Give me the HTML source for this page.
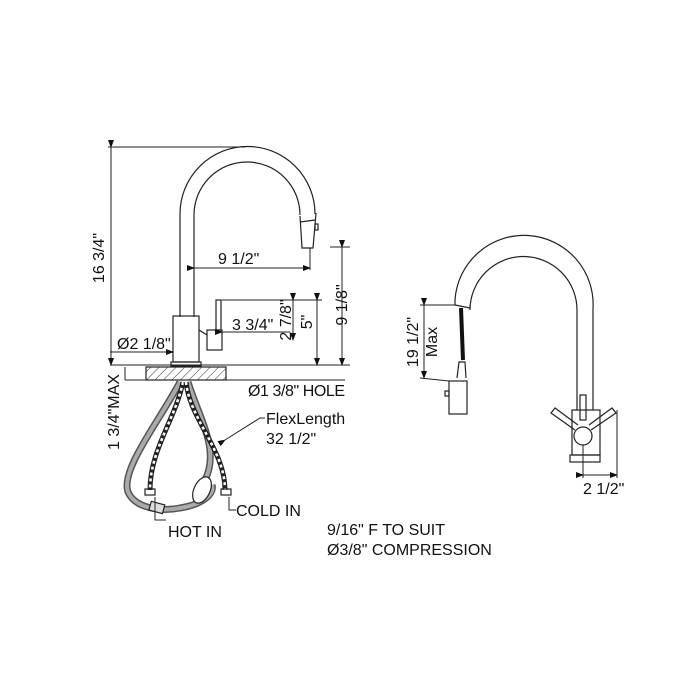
<!DOCTYPE html>
<html><head><meta charset="utf-8"><style>
html,body{margin:0;padding:0;background:#fff;}
svg{display:block;}
text{font-family:"Liberation Sans",Arial,sans-serif;font-size:16px;fill:#111;}
</style></head><body>
<svg width="700" height="700" viewBox="0 0 700 700" xmlns="http://www.w3.org/2000/svg">
<defs>
<pattern id="h" width="6" height="6" patternUnits="userSpaceOnUse" patternTransform="rotate(45)">
<line x1="0" y1="0" x2="0" y2="6" stroke="#333" stroke-width="1"/></pattern>
<marker id="a" markerWidth="8" markerHeight="6" refX="7" refY="3" orient="auto"><path d="M0,0 L8,3 L0,6z" fill="#111"/></marker>
</defs>
<g fill="none" stroke="#222" stroke-width="1.2">
<!-- left faucet spout -->
<path d="M180,317 V214 A67.5,67.5 0 0 1 315,214"/>
<path d="M194,317 V215 A53,53 0 0 1 300,215"/>
<path d="M300,216 L302,248 L313,248 L316,213"/>
<line x1="300" y1="222" x2="315" y2="220"/>
<rect x="315" y="224" width="3" height="6"/>
<!-- body -->
<rect x="173" y="316" width="26" height="46"/>
<rect x="171" y="362" width="30" height="4"/>
<rect x="216" y="300" width="5" height="30"/>
<rect x="207" y="330" width="15" height="20"/>
<line x1="199" y1="330" x2="207" y2="335"/>
<!-- dims -->
<line x1="111" y1="147" x2="111" y2="365" marker-start="url(#a)" marker-end="url(#a)" stroke-width="1"/>
<line x1="108" y1="147" x2="245" y2="147" stroke-width="1"/>
<line x1="194" y1="268" x2="310" y2="268" marker-start="url(#a)" marker-end="url(#a)" stroke-width="1"/>
<line x1="310" y1="248" x2="310" y2="270" stroke-width="1"/>
<line x1="330" y1="247" x2="350" y2="247" stroke-width="1"/>
<line x1="342" y1="247" x2="342" y2="365" marker-start="url(#a)" marker-end="url(#a)" stroke-width="1"/>
<line x1="222" y1="300" x2="322" y2="300" stroke-width="1"/>
<line x1="317" y1="300" x2="317" y2="365" marker-start="url(#a)" marker-end="url(#a)" stroke-width="1"/>
<line x1="293" y1="300" x2="293" y2="340" marker-start="url(#a)" marker-end="url(#a)" stroke-width="1"/>
<line x1="222" y1="332" x2="290" y2="332" marker-start="url(#a)" stroke-width="1"/>
<line x1="110" y1="352" x2="173" y2="352" marker-end="url(#a)" stroke-width="1"/>
<line x1="110" y1="365" x2="350" y2="365" stroke-width="1"/>
<rect x="146" y="367" width="80" height="13" fill="url(#h)"/>
<line x1="125" y1="380" x2="345" y2="380" stroke-width="1"/>
<line x1="125" y1="367" x2="125" y2="380" stroke-width="1"/>
<!-- hoses -->
<path d="M180,382 C160,420 120,470 128,492 C135,508 160,512 180,508 C200,505 215,495 212,485" stroke="#555" stroke-width="7"/>
<path d="M180,382 C160,420 120,470 128,492 C135,508 160,512 180,508 C200,505 215,495 212,485" stroke="#aaa" stroke-width="4"/>
<path d="M188,382 C200,420 220,450 205,480" stroke="#555" stroke-width="7"/>
<path d="M188,382 C200,420 220,450 205,480" stroke="#aaa" stroke-width="4"/>
<path d="M183,382 C175,420 150,450 150,490" stroke-width="5"/>
<path d="M183,382 C175,420 150,450 150,490" stroke="#fff" stroke-width="2.5" stroke-dasharray="3,3"/>
<path d="M186,382 C190,420 225,450 225,490" stroke-width="5"/>
<path d="M186,382 C190,420 225,450 225,490" stroke="#fff" stroke-width="2.5" stroke-dasharray="3,3"/>
<rect x="145" y="489" width="10" height="6"/>
<rect x="221" y="489" width="10" height="6"/>
<ellipse cx="202" cy="490" rx="8" ry="14" transform="rotate(25 202 490)" fill="#fff"/>
<rect x="150" y="503" width="14" height="9" transform="rotate(15 157 507)" fill="#ddd"/>
<path d="M155,497 V520 H166" stroke-width="1"/>
<path d="M229,497 V510 H236" stroke-width="1"/>
<path d="M225,440 L260,418 H265" stroke-width="1" marker-start="url(#a)"/>
<!-- right faucet -->
<path d="M455,300 A69,69 0 0 1 593,309 V410"/>
<path d="M470,305 V310 A53.5,53.5 0 0 1 577,310 V410"/>
<line x1="455" y1="300" x2="455" y2="305"/>
<line x1="455" y1="305" x2="470" y2="308"/>
<path d="M461,308 L463,360" stroke="#111" stroke-width="4"/>
<path d="M457,378 L459,362 H465 L466,378"/>
<rect x="449" y="381" width="18" height="33"/>
<rect x="445" y="391" width="4" height="5"/>
<rect x="572" y="410" width="28" height="45"/>
<rect x="570" y="455" width="30" height="7"/>
<rect x="580" y="395" width="6" height="25"/>
<circle cx="583" cy="436" r="9"/>
<path d="M575,430 L551,413 L555,408 L578,425"/>
<path d="M591,430 L616,413 L612,408 L589,425"/>
<line x1="583" y1="445" x2="583" y2="478" stroke-width="1"/>
<line x1="617" y1="410" x2="617" y2="478" stroke-width="1"/>
<line x1="583" y1="475" x2="617" y2="475" marker-start="url(#a)" marker-end="url(#a)" stroke-width="1"/>
<line x1="424" y1="305" x2="424" y2="378" marker-start="url(#a)" marker-end="url(#a)" stroke-width="1"/>
<line x1="420" y1="305" x2="455" y2="305" stroke-width="1"/>
<line x1="420" y1="378" x2="449" y2="381" stroke-width="1"/>
</g>
<text x="218" y="264">9 1/2"</text>
<text x="232" y="330">3 3/4"</text>
<text x="117" y="349">Ø2 1/8"</text>
<text x="248" y="396" textLength="97">Ø1 3/8" HOLE</text>
<text x="266" y="424">FlexLength</text>
<text x="266" y="444">32 1/2"</text>
<text x="236" y="516">COLD IN</text>
<text x="168" y="537">HOT IN</text>
<text x="327" y="535">9/16" F  TO SUIT</text>
<text x="327" y="555">Ø3/8" COMPRESSION</text>
<text x="583" y="494">2 1/2"</text>
<text transform="translate(104,258) rotate(-90)" text-anchor="middle">16 3/4"</text>
<text transform="translate(119,412) rotate(-90)" text-anchor="middle">1 3/4"MAX</text>
<text transform="translate(347,305) rotate(-90)" text-anchor="middle">9 1/8"</text>
<text transform="translate(312,322) rotate(-90)" text-anchor="middle">5"</text>
<text transform="translate(291,320) rotate(-90)" text-anchor="middle">2 7/8"</text>
<text transform="translate(418,342) rotate(-90)" text-anchor="middle">19 1/2"</text>
<text transform="translate(437,342) rotate(-90)" text-anchor="middle">Max</text>
</svg>
</body></html>
